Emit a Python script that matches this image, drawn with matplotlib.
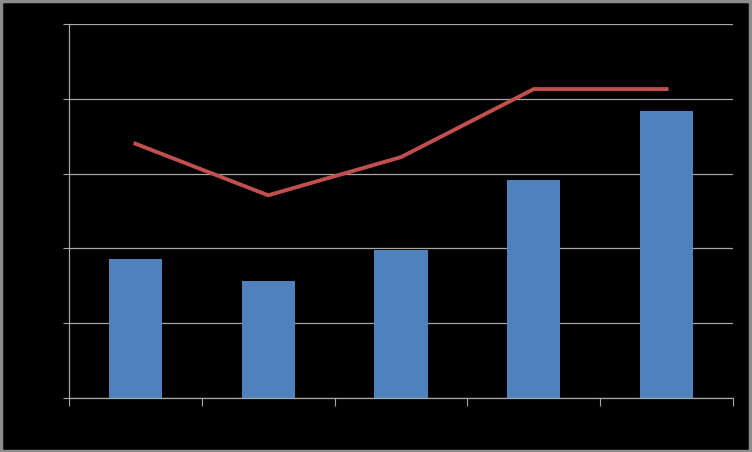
import matplotlib
matplotlib.use('Agg')
import matplotlib.pyplot as plt
import numpy as np

# values (y axis 0..5, labels are drawn black on black)
categories = ['1', '2', '3', '4', '5']
bar_values = [1.86, 1.56, 1.98, 2.91, 3.84]
line_values = [3.40, 2.71, 3.22, 4.13, 4.13]

bar_color = '#4f81bd'
line_color = '#c0504d'
grid_color = '#a6a6a6'

fig = plt.figure(figsize=(7.52, 4.5201), dpi=100, facecolor='black')
ax = fig.add_axes([69 / 752, (452 - 398) / 452, (733 - 69) / 752, (398 - 24) / 452])
ax.set_facecolor('black')

x = np.arange(len(categories))
ax.bar(x, bar_values, width=0.4, color=bar_color, zorder=2)
ax.plot(x, line_values, color=line_color, linewidth=2.8, zorder=3)

ax.set_xlim(-0.5, len(categories) - 0.5)
ax.set_ylim(0, 5)
ax.set_yticks(np.arange(0, 6, 1))
ax.yaxis.grid(True, color=grid_color, linewidth=0.9, zorder=0)
ax.set_axisbelow(True)

# ticks sit on category boundaries, like an office chart
ax.set_xticks(np.arange(-0.5, len(categories), 1))
ax.tick_params(axis='x', length=6, color=grid_color, labelcolor='black')
ax.tick_params(axis='y', length=4, color=grid_color, labelcolor='black')
ax.set_xticklabels([])
ax.set_yticklabels([])

for side in ['top', 'right']:
    ax.spines[side].set_visible(False)
for side in ['left', 'bottom']:
    ax.spines[side].set_color(grid_color)
    ax.spines[side].set_linewidth(0.9)

# thin gray frame round the whole picture
fig.patches.append(plt.Rectangle((0.001, 0.002), 0.997, 0.995, transform=fig.transFigure,
                                 fill=False, edgecolor='#8c8c8c', linewidth=2.5))

plt.savefig('out.png', dpi=100, facecolor='black')
